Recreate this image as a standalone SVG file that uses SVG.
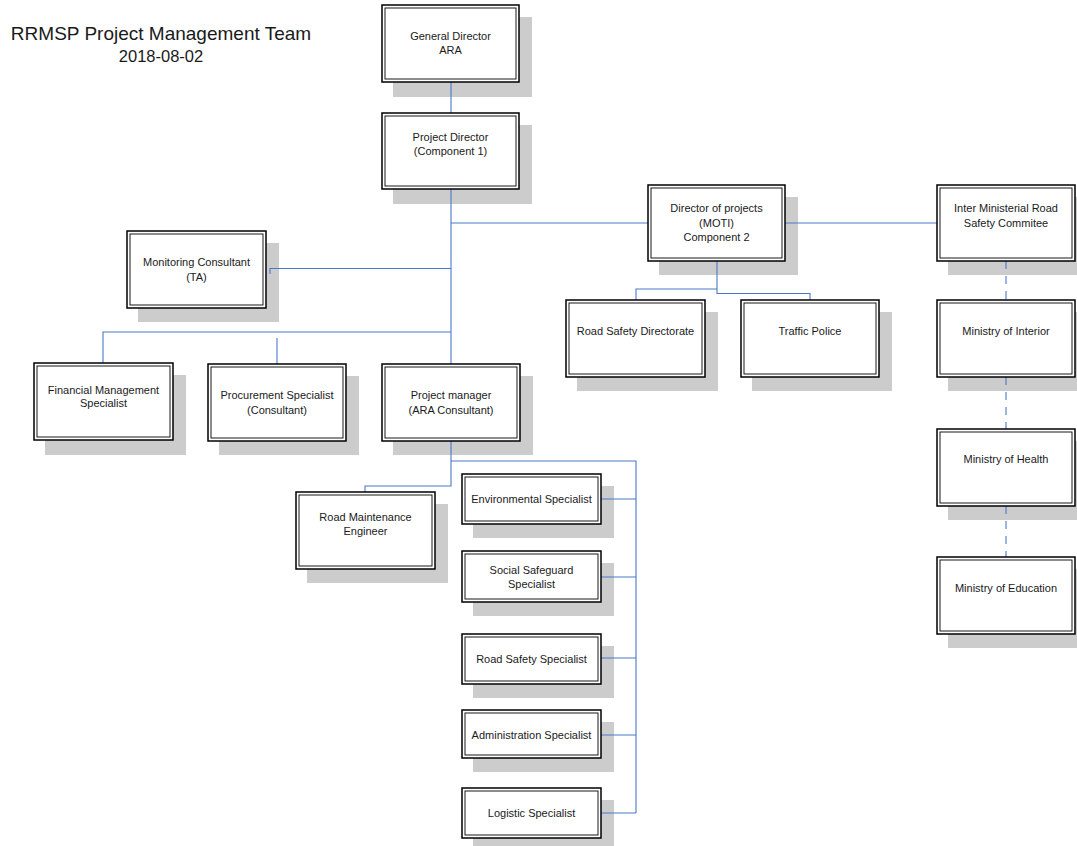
<svg xmlns="http://www.w3.org/2000/svg" width="1077" height="846" viewBox="0 0 1077 846">
<style>
.sh{fill:#cccccc;stroke:none}
.bo{fill:#ffffff;stroke:#000000;stroke-width:1.5}
.bi{fill:none;stroke:#000000;stroke-width:0.9}
.t{font-family:"Liberation Sans",Arial,sans-serif;font-size:11px;fill:#1a1a1a;text-anchor:middle}
.ttl{font-family:"Liberation Sans",Arial,sans-serif;fill:#1a1a1a;text-anchor:middle}
.c{fill:none;stroke:#4a78c8;stroke-width:1.1}
.d{fill:none;stroke:#4a78c8;stroke-width:1.1;stroke-dasharray:8,7}
</style>
<rect width="1077" height="846" fill="#ffffff"/>
<g id="title">
<text class="ttl" x="161" y="40" font-size="19">RRMSP Project Management Team</text>
<text class="ttl" x="161" y="62" font-size="16.5">2018-08-02</text>
</g>
<g id="shadows">
<rect class="sh" x="393" y="17" width="139" height="80"/>
<rect class="sh" x="393" y="125" width="139" height="79"/>
<rect class="sh" x="138" y="243" width="141" height="79"/>
<rect class="sh" x="45" y="375" width="141" height="80"/>
<rect class="sh" x="219" y="376" width="140" height="79"/>
<rect class="sh" x="393" y="376" width="140" height="79"/>
<rect class="sh" x="307" y="504" width="141" height="79"/>
<rect class="sh" x="473" y="486" width="141" height="52"/>
<rect class="sh" x="473" y="563" width="141" height="53"/>
<rect class="sh" x="473" y="646" width="141" height="52"/>
<rect class="sh" x="473" y="722" width="141" height="50"/>
<rect class="sh" x="473" y="800" width="141" height="52"/>
<rect class="sh" x="659" y="197" width="139" height="78"/>
<rect class="sh" x="577" y="312" width="141" height="79"/>
<rect class="sh" x="752" y="312" width="140" height="79"/>
<rect class="sh" x="948" y="197" width="140" height="78"/>
<rect class="sh" x="948" y="312" width="140" height="79"/>
<rect class="sh" x="948" y="441" width="140" height="79"/>
<rect class="sh" x="948" y="569" width="140" height="79"/>
</g>
<g id="connectors">
<path class="c" d="M451,82 V113"/>
<path class="c" d="M451,189 V364"/>
<path class="c" d="M451,223 H648"/>
<path class="c" d="M451,268.5 H270 V274"/>
<path class="c" d="M451,332 H103 V363"/>
<path class="c" d="M277,338 V364"/>
<path class="c" d="M451,441 V486 H365 V492"/>
<path class="c" d="M451,461 H636 V813"/>
<path class="c" d="M601,499 H636"/>
<path class="c" d="M601,577 H636"/>
<path class="c" d="M601,658 H636"/>
<path class="c" d="M601,735 H636"/>
<path class="c" d="M601,813 H636"/>
<path class="c" d="M717,261 V293.5 H810 V300"/>
<path class="c" d="M717,289 H636 V300"/>
<path class="c" d="M785,223 H937"/>
<path class="d" d="M1006,261 V300"/>
<path class="d" d="M1006,377 V429"/>
<path class="d" d="M1006,506 V557"/>
</g>
<g id="general-director">
<rect class="bo" x="382" y="5" width="137" height="77"/>
<rect class="bi" x="385" y="8" width="131" height="71"/>
<text class="t" x="450.5" y="40">General Director</text>
<text class="t" x="450.5" y="54">ARA</text>
</g>
<g id="project-director">
<rect class="bo" x="382" y="113" width="137" height="76"/>
<rect class="bi" x="385" y="116" width="131" height="70"/>
<text class="t" x="450.5" y="140.5">Project Director</text>
<text class="t" x="450.5" y="154.5">(Component 1)</text>
</g>
<g id="monitoring-consultant">
<rect class="bo" x="127" y="231" width="139" height="77"/>
<rect class="bi" x="130" y="234" width="133" height="71"/>
<text class="t" x="196.5" y="265.5">Monitoring Consultant</text>
<text class="t" x="196.5" y="280.5">(TA)</text>
</g>
<g id="financial-management">
<rect class="bo" x="34" y="363" width="139" height="77"/>
<rect class="bi" x="37" y="366" width="133" height="71"/>
<text class="t" x="103.5" y="393.5">Financial Management</text>
<text class="t" x="103.5" y="406.5">Specialist</text>
</g>
<g id="procurement-specialist">
<rect class="bo" x="208" y="364" width="138" height="77"/>
<rect class="bi" x="211" y="367" width="132" height="71"/>
<text class="t" x="277" y="399">Procurement Specialist</text>
<text class="t" x="277" y="414">(Consultant)</text>
</g>
<g id="project-manager">
<rect class="bo" x="382" y="364" width="138" height="77"/>
<rect class="bi" x="385" y="367" width="132" height="71"/>
<text class="t" x="451" y="399">Project manager</text>
<text class="t" x="451" y="414">(ARA Consultant)</text>
</g>
<g id="road-maintenance-engineer">
<rect class="bo" x="296" y="492" width="139" height="77"/>
<rect class="bi" x="299" y="495" width="133" height="71"/>
<text class="t" x="365.5" y="520.5">Road Maintenance</text>
<text class="t" x="365.5" y="535">Engineer</text>
</g>
<g id="environmental-specialist">
<rect class="bo" x="462" y="474" width="139" height="50"/>
<rect class="bi" x="465" y="477" width="133" height="44"/>
<text class="t" x="531.5" y="503">Environmental Specialist</text>
</g>
<g id="social-safeguard-specialist">
<rect class="bo" x="462" y="551" width="139" height="51"/>
<rect class="bi" x="465" y="554" width="133" height="45"/>
<text class="t" x="531.5" y="574">Social Safeguard</text>
<text class="t" x="531.5" y="588">Specialist</text>
</g>
<g id="road-safety-specialist">
<rect class="bo" x="462" y="634" width="139" height="50"/>
<rect class="bi" x="465" y="637" width="133" height="44"/>
<text class="t" x="531.5" y="663">Road Safety Specialist</text>
</g>
<g id="administration-specialist">
<rect class="bo" x="462" y="710" width="139" height="48"/>
<rect class="bi" x="465" y="713" width="133" height="42"/>
<text class="t" x="531.5" y="739">Administration Specialist</text>
</g>
<g id="logistic-specialist">
<rect class="bo" x="462" y="788" width="139" height="50"/>
<rect class="bi" x="465" y="791" width="133" height="44"/>
<text class="t" x="531.5" y="816.5">Logistic Specialist</text>
</g>
<g id="director-of-projects">
<rect class="bo" x="648" y="185" width="137" height="76"/>
<rect class="bi" x="651" y="188" width="131" height="70"/>
<text class="t" x="716.5" y="211.5">Director of projects</text>
<text class="t" x="716.5" y="226.5">(MOTI)</text>
<text class="t" x="716.5" y="240.5">Component 2</text>
</g>
<g id="road-safety-directorate">
<rect class="bo" x="566" y="300" width="139" height="77"/>
<rect class="bi" x="569" y="303" width="133" height="71"/>
<text class="t" x="635.5" y="335">Road Safety Directorate</text>
</g>
<g id="traffic-police">
<rect class="bo" x="741" y="300" width="138" height="77"/>
<rect class="bi" x="744" y="303" width="132" height="71"/>
<text class="t" x="810" y="335">Traffic Police</text>
</g>
<g id="inter-ministerial-committee">
<rect class="bo" x="937" y="185" width="138" height="76"/>
<rect class="bi" x="940" y="188" width="132" height="70"/>
<text class="t" x="1006" y="211.5">Inter Ministerial Road</text>
<text class="t" x="1006" y="226.5">Safety Commitee</text>
</g>
<g id="ministry-of-interior">
<rect class="bo" x="937" y="300" width="138" height="77"/>
<rect class="bi" x="940" y="303" width="132" height="71"/>
<text class="t" x="1006" y="335">Ministry of Interior</text>
</g>
<g id="ministry-of-health">
<rect class="bo" x="937" y="429" width="138" height="77"/>
<rect class="bi" x="940" y="432" width="132" height="71"/>
<text class="t" x="1006" y="463">Ministry of Health</text>
</g>
<g id="ministry-of-education">
<rect class="bo" x="937" y="557" width="138" height="77"/>
<rect class="bi" x="940" y="560" width="132" height="71"/>
<text class="t" x="1006" y="592">Ministry of Education</text>
</g>
</svg>
